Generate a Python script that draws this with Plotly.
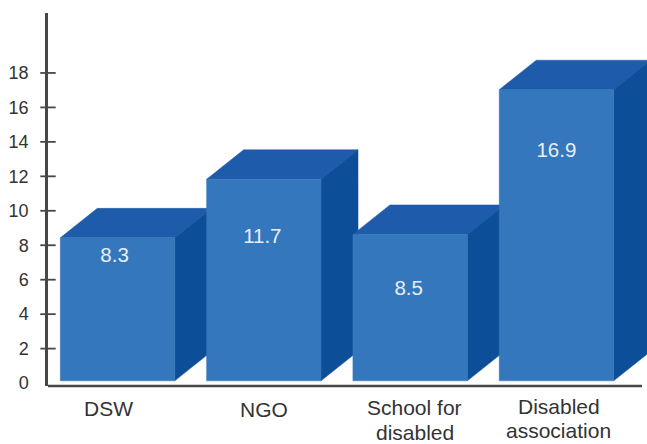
import plotly.graph_objects as go

# Survey values, one per organisation
values = [8.3, 11.7, 8.5, 16.9]
value_labels = ["8.3", "11.7", "8.5", "16.9"]
y_ticks = [0, 2, 4, 6, 8, 10, 12, 14, 16, 18]
category_lines = [["DSW"], ["NGO"], ["School for", "disabled"], ["Disabled", "association"]]

# Faces of the extruded columns
FRONT = "#3477bd"
TOP = "#1f5bab"
SIDE = "#0c4e98"
AXIS = "#474747"
TEXT = "#333333"
FONT = "Liberation Sans"

BAR_W = 0.782
DEPTH_X = 0.253
DEPTH_Y = 1.71
LIFT = 0.13
X_MIN, X_MAX = -0.475, 3.619
Y_MIN, Y_MAX = -0.17, 21.48

# Where each value label sits inside its column
label_heights = [7.3, 8.41, 5.4, 13.4]
label_centres = [-0.02, 0.99, 1.99, 3.0]
# Horizontal nudge and vertical pixel position for each category caption
caption_nudge = [-0.06, 0.0, 0.03, 0.015]
caption_first_shift = [-22, -23, -21.5, -20]
CAPTION_PITCH = 24.5

fig = go.Figure()


def face(xs, ys, color):
    fig.add_trace(go.Scatter(
        x=xs + xs[:1], y=ys + ys[:1], mode="lines", fill="toself",
        fillcolor=color, line=dict(color=color, width=0.5),
        hoverinfo="skip", showlegend=False,
    ))


# Columns are painted left to right so each front covers its neighbour's side
for i, v in enumerate(values):
    left, right = i - BAR_W / 2, i + BAR_W / 2
    bottom, top = LIFT, v + LIFT
    face([left, right, right + DEPTH_X, left + DEPTH_X],
         [top, top, top + DEPTH_Y, top + DEPTH_Y], TOP)
    face([right, right + DEPTH_X, right + DEPTH_X, right],
         [bottom, bottom + DEPTH_Y, top + DEPTH_Y, top], SIDE)
    face([left, right, right, left], [bottom, bottom, top, top], FRONT)

# Value captions on the front faces
fig.add_trace(go.Scatter(
    x=label_centres, y=label_heights, mode="text", text=value_labels,
    textfont=dict(family=FONT, size=20.5, color="#e9eef6"),
    hoverinfo="skip", showlegend=False,
))

# Tick marks that straddle the vertical axis
fig.add_trace(go.Scatter(
    x=[X_MIN] * (len(y_ticks) - 1), y=y_ticks[1:], mode="markers",
    marker=dict(symbol="line-ew", size=11, line=dict(color=AXIS, width=1.8)),
    cliponaxis=False, hoverinfo="skip", showlegend=False,
))

# Category captions, one annotation per line
for i, lines in enumerate(category_lines):
    for j, line in enumerate(lines):
        fig.add_annotation(
            x=i + caption_nudge[i], y=0, yref="paper", text=line, showarrow=False,
            xanchor="center", yanchor="middle",
            yshift=caption_first_shift[i] - CAPTION_PITCH * j,
            font=dict(family=FONT, size=21, color=TEXT),
        )

# Horizontal axis stops just short of the right edge
fig.add_shape(type="line", xref="paper", yref="paper",
              x0=0, x1=594 / 599, y0=0, y1=0,
              line=dict(color=AXIS, width=2.5))

fig.update_layout(
    width=647, height=444, autosize=False,
    margin=dict(l=48, r=0, t=13, b=58),
    paper_bgcolor="white", plot_bgcolor="white",
    showlegend=False,
    xaxis=dict(range=[X_MIN, X_MAX], showticklabels=False, ticks="",
               showgrid=False, zeroline=False, showline=False),
    yaxis=dict(range=[Y_MIN, Y_MAX], tickvals=y_ticks,
               ticktext=[str(t) for t in y_ticks],
               tickfont=dict(family=FONT, size=18, color=TEXT),
               ticks="outside", ticklen=5, tickcolor="rgba(0,0,0,0)",
               ticklabelstandoff=8,
               showgrid=False, zeroline=False, showline=True,
               linecolor=AXIS, linewidth=2.5),
)

fig.write_html("out.html")
